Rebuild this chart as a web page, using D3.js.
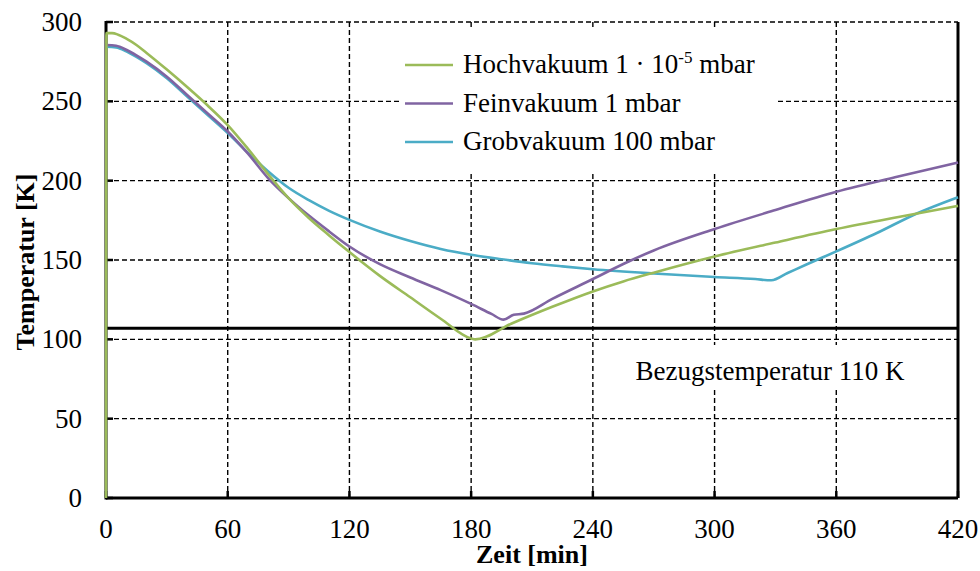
<!DOCTYPE html>
<html>
<head>
<meta charset="utf-8">
<script src="https://cdn.jsdelivr.net/npm/d3@7"></script>
<style>
  body { margin: 0; background: #fff; }
  text { font-family: "Liberation Serif", "Times New Roman", serif; fill: #000; }
</style>
</head>
<body>
<svg id="chart" width="980" height="571"></svg>
<script>
// data
var hochTime = [0, 0.2, 3, 6, 10, 15, 20, 30, 40, 50, 60, 70, 80, 90, 100, 110, 120, 135, 150, 165, 180, 182, 200, 220, 240, 255, 270, 300, 330, 360, 390, 420];
var hochTemp = [0, 293, 293, 292, 289.5, 285.5, 280.5, 270, 259, 247.5, 235, 220, 204, 189, 176.5, 165.5, 155, 140, 126.5, 113, 100.5, 100, 110, 120.5, 130.2, 136.5, 142, 152.2, 161, 169.5, 177, 184.1];

var feinTime = [0, 5, 10, 15, 20, 30, 40, 50, 60, 70, 80, 90, 100, 110, 120, 135, 150, 165, 180, 190, 196, 201, 206, 220, 240, 255, 270, 300, 330, 360, 390, 420];
var feinTemp = [285.5, 285, 282.5, 279, 275, 265.5, 254, 242.5, 231, 217, 201.5, 189, 178, 168, 158.5, 147.4, 139, 131, 122.3, 116, 112.4, 115.5, 116.2, 125.5, 138, 147.5, 156, 169.5, 181.5, 193, 202.5, 211.4];

var grobTime = [0, 5, 10, 15, 20, 30, 40, 50, 60, 70, 80, 90, 100, 110, 120, 135, 150, 165, 180, 195, 210, 225, 240, 270, 300, 320, 328, 336, 345, 360, 380, 400, 420];
var grobTemp = [284.5, 284, 281.5, 278, 274, 264.5, 253, 241.5, 230, 217.5, 205.8, 195.5, 187.7, 181, 175.3, 168, 162, 157, 153.3, 150.5, 148, 146, 144.2, 141.5, 139.3, 138, 137.2, 141.8, 147, 155.4, 167, 179.5, 189.6];

var seriesNames = ["Hochvakuum 1 \u00b7 10", "Feinvakuum 1 mbar", "Grobvakuum 100 mbar"];
var seriesColors = ["#9BBB59", "#8064A2", "#4BACC6"];

var xTicks = [0, 60, 120, 180, 240, 300, 360, 420];
var yTicks = [0, 50, 100, 150, 200, 250, 300];
var refTemp = 107;
var refLabel = "Bezugstemperatur 110 K";

var margin = {top: 22, right: 22, bottom: 73, left: 106};
var width = 980 - margin.left - margin.right;
var height = 571 - margin.top - margin.bottom;

var svg = d3.select("#chart");
var g = svg.append("g").attr("transform", "translate(" + margin.left + "," + margin.top + ")");

var x = d3.scaleLinear().domain([0, 420]).range([0, width]);
var y = d3.scaleLinear().domain([0, 300]).range([height, 0]);

// grid
g.selectAll(".vgrid")
    .data(xTicks.slice(1, -1))
    .enter()
    .append("line")
    .attr("x1", function(d) { return x(d); })
    .attr("x2", function(d) { return x(d); })
    .attr("y1", 0)
    .attr("y2", height)
    .style("stroke", "#000")
    .style("stroke-width", 1.4)
    .style("stroke-dasharray", "5,3");

g.selectAll(".hgrid")
    .data(yTicks.slice(1))
    .enter()
    .append("line")
    .attr("x1", 0)
    .attr("x2", width)
    .attr("y1", function(d) { return y(d); })
    .attr("y2", function(d) { return y(d); })
    .style("stroke", "#000")
    .style("stroke-width", 1.4)
    .style("stroke-dasharray", "5,3");

// reference label box
var refBox = g.append("g").attr("transform", "translate(" + (770 - margin.left) + "," + (367 - margin.top) + ")");
refBox.append("rect")
    .attr("x", -142)
    .attr("y", -22)
    .attr("width", 284)
    .attr("height", 44)
    .style("fill", "#fff");
refBox.append("text")
    .attr("x", 0)
    .attr("y", 13)
    .style("text-anchor", "middle")
    .style("font-size", "27px")
    .text(refLabel);

// axes frame
g.append("line")
    .attr("x1", 0).attr("x2", width)
    .attr("y1", height).attr("y2", height)
    .style("stroke", "#000").style("stroke-width", 3);
g.append("line")
    .attr("x1", width).attr("x2", width)
    .attr("y1", 0).attr("y2", height)
    .style("stroke", "#000").style("stroke-width", 3);
g.append("line")
    .attr("x1", 0).attr("x2", 0)
    .attr("y1", -1).attr("y2", height + 1.5)
    .style("stroke", "#000").style("stroke-width", 3);

// inward ticks
g.selectAll(".xtick")
    .data(xTicks)
    .enter()
    .append("line")
    .attr("x1", function(d) { return x(d); })
    .attr("x2", function(d) { return x(d); })
    .attr("y1", height)
    .attr("y2", height - 7)
    .style("stroke", "#000")
    .style("stroke-width", 2.5);
g.selectAll(".ytick")
    .data(yTicks)
    .enter()
    .append("line")
    .attr("x1", 0)
    .attr("x2", 7)
    .attr("y1", function(d) { return y(d); })
    .attr("y2", function(d) { return y(d); })
    .style("stroke", "#000")
    .style("stroke-width", 2.5);

// reference line
g.append("line")
    .attr("x1", 0).attr("x2", width)
    .attr("y1", y(refTemp)).attr("y2", y(refTemp))
    .style("stroke", "#000").style("stroke-width", 3);

// series
var line = d3.line()
    .x(function(d) { return x(d[0]); })
    .y(function(d) { return y(d[1]); })
    .curve(d3.curveMonotoneX);

var series = [
    d3.zip(grobTime, grobTemp),
    d3.zip(feinTime, feinTemp),
    d3.zip(hochTime, hochTemp)
];
var drawColors = [seriesColors[2], seriesColors[1], seriesColors[0]];

g.selectAll(".series")
    .data(series)
    .enter()
    .append("path")
    .attr("d", line)
    .style("fill", "none")
    .style("stroke", function(d, i) { return drawColors[i]; })
    .style("stroke-width", 2.6);

// legend
var legend = g.append("g").attr("transform", "translate(" + (400 - margin.left) + "," + (30 - margin.top) + ")");
legend.append("rect")
    .attr("x", 0)
    .attr("y", 0)
    .attr("width", 377)
    .attr("height", 143)
    .style("fill", "#fff");

seriesNames.forEach(function(name, i) {
    var cy = 35 + i * 38.5;
    legend.append("line")
        .attr("x1", 5).attr("x2", 53)
        .attr("y1", cy).attr("y2", cy)
        .style("stroke", seriesColors[i])
        .style("stroke-width", 2.6);
    var t = legend.append("text")
        .attr("x", 63)
        .attr("y", cy + 8)
        .style("font-size", "27px")
        .text(name);
    if (i == 0) {
        t.append("tspan")
            .attr("dy", -10)
            .style("font-size", "17px")
            .text("-5");
        t.append("tspan")
            .attr("dy", 10)
            .text(" mbar");
    }
});

// tick labels
g.selectAll(".xlabel")
    .data(xTicks)
    .enter()
    .append("text")
    .attr("x", function(d) { return x(d); })
    .attr("y", height + 40)
    .style("text-anchor", "middle")
    .style("font-size", "27px")
    .text(function(d) { return d; });

g.selectAll(".ylabel")
    .data(yTicks)
    .enter()
    .append("text")
    .attr("x", -24)
    .attr("y", function(d) { return y(d) + 9; })
    .style("text-anchor", "end")
    .style("font-size", "27px")
    .text(function(d) { return d; });

// axis titles
g.append("text")
    .attr("x", x(210))
    .attr("y", height + 65)
    .style("text-anchor", "middle")
    .style("font-size", "26px")
    .style("font-weight", "bold")
    .text("Zeit [min]");

g.append("text")
    .attr("transform", "translate(" + (-72) + "," + (height / 2 + 2) + ") rotate(-90)")
    .style("text-anchor", "middle")
    .style("font-size", "26px")
    .style("font-weight", "bold")
    .text("Temperatur [K]");
</script>
</body>
</html>
